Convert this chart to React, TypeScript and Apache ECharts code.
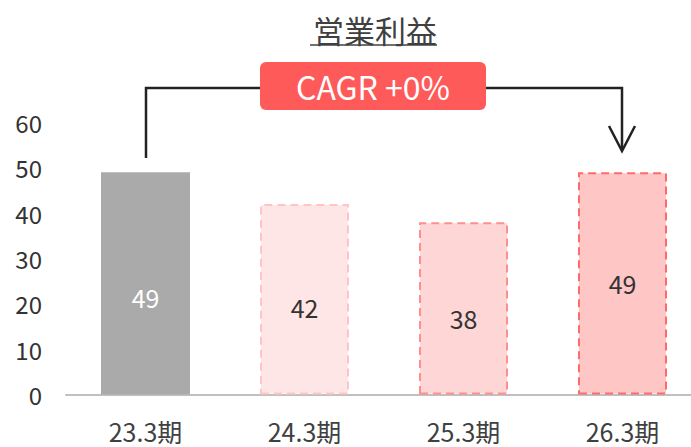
import React, { useEffect, useRef } from "react";
import * as echarts from "echarts";

const categories = ["23.3期", "24.3期", "25.3期", "26.3期"];
const values = [49, 42, 38, 49];
const yTicks = [0, 10, 20, 30, 40, 50, 60];
const title = "営業利益";
const badgeText = "CAGR +0%";

const FONT = "'Noto Sans CJK JP', 'Noto Sans', sans-serif";

export default function App() {
  const ref = useRef<HTMLDivElement>(null);
  useEffect(() => {
    if (!ref.current) return;
    const chart = echarts.init(ref.current, null, { renderer: "svg" });
    const styles = [
      { color: "#aaaaaa", borderWidth: 0 },
      { color: "#ffe6e6", borderColor: "#ffc4c4", borderWidth: 2, borderType: [8, 5] },
      { color: "#ffd6d6", borderColor: "#ff8e8e", borderWidth: 2, borderType: [8, 5] },
      { color: "#ffc6c6", borderColor: "#ff6a6a", borderWidth: 2, borderType: [8, 5] },
    ];
    const labelOffsets = [[0, 14], [0, 8], [0, 10], [0, 0]];
    const labelColors = ["#ffffff", "#333333", "#333333", "#333333"];
    chart.setOption({
      animation: false,
      grid: { left: 66, right: 0, top: 122.5, bottom: 52.5, containLabel: false },
      xAxis: {
        type: "category",
        data: categories,
        axisLine: { show: true, lineStyle: { color: "#c0c0c0", width: 2 } },
        axisTick: { show: false },
        axisLabel: { color: "#404040", fontSize: 25, lineHeight: 26, fontFamily: FONT, margin: 23 },
      },
      yAxis: {
        type: "value",
        min: yTicks[0],
        max: yTicks[yTicks.length - 1],
        interval: 10,
        axisLine: { show: false },
        axisTick: { show: false },
        splitLine: { show: false },
        axisLabel: { color: "#333333", fontSize: 24, fontFamily: FONT, margin: 24 },
      },
      series: [
        {
          type: "bar",
          barWidth: 89,
          data: values.map((v, i) => ({
            value: v,
            itemStyle: styles[i],
            label: {
              show: true,
              position: "inside",
              offset: labelOffsets[i],
              color: labelColors[i],
              fontSize: 25,
              fontFamily: FONT,
            },
          })),
        },
      ],
      graphic: [
        {
          type: "text",
          x: 375,
          y: 29,
          style: {
            text: title,
            fill: "#404040",
            font: `31px ${FONT}`,
            align: "center",
            verticalAlign: "middle",
          },
        },
        {
          type: "line",
          shape: { x1: 310, y1: 45, x2: 437, y2: 45 },
          style: { stroke: "#404040", lineWidth: 1.5 },
        },
        {
          type: "polyline",
          shape: { points: [[146, 158], [146, 88], [262, 88]] },
          style: { stroke: "#222222", lineWidth: 2.5, fill: null },
        },
        {
          type: "polyline",
          shape: { points: [[484, 88], [622, 88], [622, 150]] },
          style: { stroke: "#222222", lineWidth: 2.5, fill: null },
        },
        {
          type: "polyline",
          shape: { points: [[609, 126], [622, 151], [635, 126]] },
          style: { stroke: "#222222", lineWidth: 2.5, fill: null },
        },
        {
          type: "rect",
          shape: { x: 260, y: 62, width: 226, height: 48, r: 6 },
          style: { fill: "#ff5a5a" },
        },
        {
          type: "text",
          x: 373,
          y: 86,
          style: {
            text: badgeText,
            fill: "#ffffff",
            font: `32px ${FONT}`,
            align: "center",
            verticalAlign: "middle",
          },
        },
      ],
    });
    return () => chart.dispose();
  }, []);
  return (
    <div style={{ width: 691, height: 447, position: "absolute", left: 0, top: 0, overflow: "hidden" }}>
      <div ref={ref} style={{ width: 702, height: 447 }} />
    </div>
  );
}
